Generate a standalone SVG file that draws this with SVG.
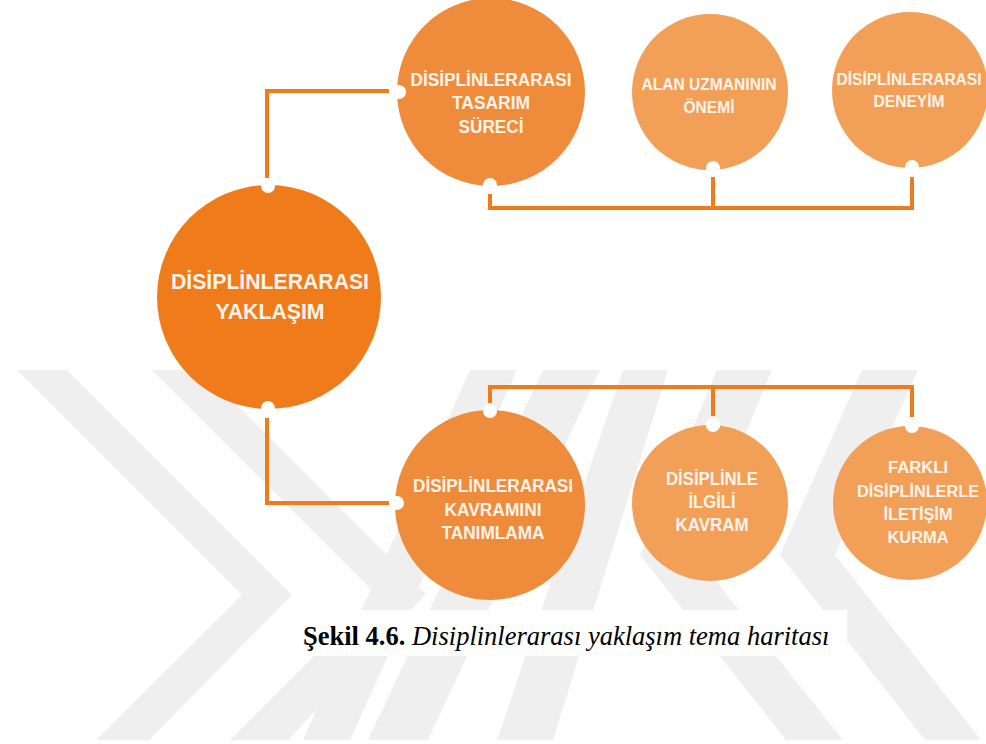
<svg xmlns="http://www.w3.org/2000/svg" width="986" height="744" viewBox="0 0 986 744">
<style>
.wm{fill:#efefef}
.ln{fill:none;stroke:#ef7b1b;stroke-width:4;stroke-linejoin:miter}
.notch{fill:#ffffff}
.t{font-family:"Liberation Sans",Arial,sans-serif;font-weight:bold;fill:#fdf3ea;text-anchor:middle}
.c0{fill:#ef7b1a}
.c1{fill:#ef8c3b}
.c2{fill:#f2a058}
.cap{font-family:"Liberation Serif","Times New Roman",serif;font-size:26.5px;fill:#000}
</style>
<rect width="986" height="744" fill="#ffffff"/>
<g id="watermark">
<polygon class="wm" points="17,370 67,370 292,595 149,740 96,740 242,595"/>
<polygon class="wm" points="152,370 202,370 426,594 288,740 230,740 376,594"/>
<polygon class="wm" points="470,370 517,370 350,740 303,740"/>
<polygon class="wm" points="543,370 600,370 428,740 368,740"/>
<polygon class="wm" points="623,370 668,370 553,740 497,740"/>
<polygon class="wm" points="717,370 772,370 695,555 843,740 786,740 640,555"/>
<polygon class="wm" points="862,370 918,370 835,555 981,740 925,740 780,555"/>
</g>
<g id="connectors">
<path class="ln" d="M267,178 V91 H389"/>
<path class="ln" d="M490,194 V208 H912 V177"/>
<path class="ln" d="M713,208 V177"/>
<path class="ln" d="M267,418 V503 H389"/>
<path class="ln" d="M490,403 V387 H912 V417"/>
<path class="ln" d="M713,387 V416"/>
</g>
<g id="n0">
<circle class="c0" cx="269" cy="297" r="112"/>
<circle class="notch" cx="268" cy="186" r="7"/>
<circle class="notch" cx="268" cy="408" r="7"/>
<text class="t" x="270" y="289" font-size="22.4" textLength="198" lengthAdjust="spacingAndGlyphs">DİSİPLİNLERARASI</text>
<text class="t" x="270" y="319" font-size="22.4" textLength="109" lengthAdjust="spacingAndGlyphs">YAKLAŞIM</text>
</g>
<g id="n1">
<circle class="c1" cx="491" cy="92" r="94"/>
<circle class="notch" cx="399" cy="92" r="7"/>
<circle class="notch" cx="490" cy="185" r="7"/>
<text class="t" x="491" y="86" font-size="18.2" textLength="161" lengthAdjust="spacingAndGlyphs">DİSİPLİNLERARASI</text>
<text class="t" x="491" y="109" font-size="18.2" textLength="78" lengthAdjust="spacingAndGlyphs">TASARIM</text>
<text class="t" x="491" y="133" font-size="18.2" textLength="65" lengthAdjust="spacingAndGlyphs">SÜRECİ</text>
</g>
<g id="n2">
<circle class="c2" cx="710" cy="92" r="78"/>
<circle class="notch" cx="713" cy="168" r="7"/>
<text class="t" x="709" y="90" font-size="16.4" textLength="135" lengthAdjust="spacingAndGlyphs">ALAN UZMANININ</text>
<text class="t" x="709" y="113" font-size="16.4" textLength="51" lengthAdjust="spacingAndGlyphs">ÖNEMİ</text>
</g>
<g id="n3">
<circle class="c2" cx="910" cy="90" r="78"/>
<circle class="notch" cx="912" cy="167" r="7"/>
<text class="t" x="909" y="85" font-size="16.4" textLength="145" lengthAdjust="spacingAndGlyphs">DİSİPLİNLERARASI</text>
<text class="t" x="909" y="107" font-size="16.4" textLength="71" lengthAdjust="spacingAndGlyphs">DENEYİM</text>
</g>
<g id="b1">
<circle class="c1" cx="490" cy="505" r="95"/>
<circle class="notch" cx="490" cy="411" r="7"/>
<circle class="notch" cx="397" cy="503" r="7"/>
<text class="t" x="493" y="492" font-size="18" textLength="160" lengthAdjust="spacingAndGlyphs">DİSİPLİNLERARASI</text>
<text class="t" x="493" y="516" font-size="18" textLength="97" lengthAdjust="spacingAndGlyphs">KAVRAMINI</text>
<text class="t" x="493" y="539" font-size="18" textLength="103" lengthAdjust="spacingAndGlyphs">TANIMLAMA</text>
</g>
<g id="b2">
<circle class="c2" cx="710" cy="503" r="78"/>
<circle class="notch" cx="713" cy="425" r="7"/>
<text class="t" x="712" y="485" font-size="17.6" textLength="92" lengthAdjust="spacingAndGlyphs">DİSİPLİNLE</text>
<text class="t" x="712" y="508" font-size="17.6" textLength="47" lengthAdjust="spacingAndGlyphs">İLGİLİ</text>
<text class="t" x="712" y="531" font-size="17.6" textLength="73" lengthAdjust="spacingAndGlyphs">KAVRAM</text>
</g>
<g id="b3">
<circle class="c2" cx="910" cy="503" r="77"/>
<circle class="notch" cx="912" cy="426" r="7"/>
<text class="t" x="918" y="473" font-size="17.2" textLength="60" lengthAdjust="spacingAndGlyphs">FARKLI</text>
<text class="t" x="918" y="497" font-size="17.2" textLength="122" lengthAdjust="spacingAndGlyphs">DİSİPLİNLERLE</text>
<text class="t" x="918" y="520" font-size="17.2" textLength="69" lengthAdjust="spacingAndGlyphs">İLETİŞİM</text>
<text class="t" x="918" y="543" font-size="17.2" textLength="61" lengthAdjust="spacingAndGlyphs">KURMA</text>
</g>
<g id="caption">
<rect x="295" y="610" width="552" height="46" fill="#ffffff"/>
<text class="cap" x="303" y="645"><tspan font-weight="bold">Şekil 4.6.</tspan> <tspan font-style="italic">Disiplinlerarası yaklaşım tema haritası</tspan></text>
</g>
</svg>
